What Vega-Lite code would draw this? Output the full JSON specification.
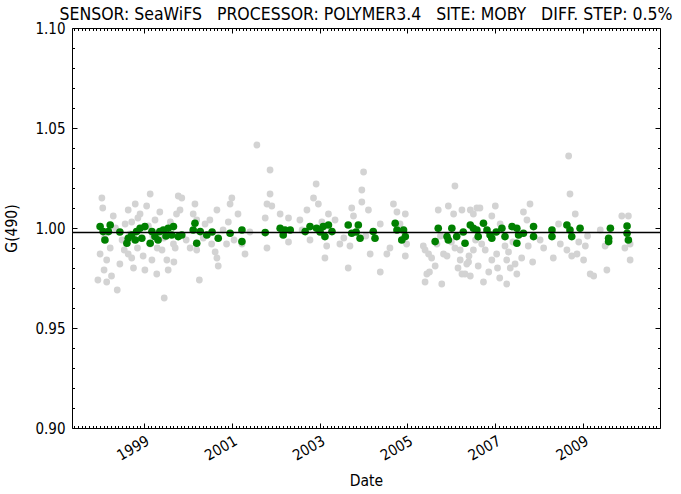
{
  "$schema": "https://vega.github.io/schema/vega-lite/v6.json",
  "width": 588,
  "height": 400,
  "autosize": {"type": "none"},
  "padding": {"left": 72, "top": 28, "right": 21, "bottom": 66},
  "background": "white",
  "config": {
    "view": {"stroke": "black", "strokeWidth": 1},
    "font": "DejaVu Sans Condensed, DejaVu Sans",
    "axis": {
      "domain": false,
      "grid": false,
      "tickColor": "black",
      "tickWidth": 1,
      "labelFont": "DejaVu Sans Condensed, DejaVu Sans",
      "labelFontSize": 15,
      "labelColor": "black",
      "titleFont": "DejaVu Sans Condensed, DejaVu Sans",
      "titleFontSize": 15.5,
      "titleFontWeight": "normal",
      "titleColor": "black",
      "labelOverlap": false,
      "labelBound": false,
      "labelFlush": false
    }
  },
  "title": {
    "text": "SENSOR: SeaWiFS\u00a0\u00a0\u00a0PROCESSOR: POLYMER3.4\u00a0\u00a0\u00a0SITE: MOBY\u00a0\u00a0\u00a0DIFF. STEP: 0.5%",
    "font": "DejaVu Sans Condensed, DejaVu Sans",
    "fontSize": 17.5,
    "fontWeight": "normal",
    "color": "black",
    "anchor": "middle",
    "offset": -2
  },
  "datasets": {
    "other": [
      {"t": 1998.04, "g": 1.015}, {"t": 1998.06, "g": 1.010}, {"t": 1998.23, "g": 0.990}, {"t": 1998.15, "g": 0.984},
      {"t": 1998.26, "g": 0.976}, {"t": 1998.15, "g": 0.973}, {"t": 1998.39, "g": 0.969}, {"t": 1998.64, "g": 1.009},
      {"t": 1998.72, "g": 1.003}, {"t": 1998.91, "g": 1.007}, {"t": 1999.06, "g": 1.011}, {"t": 1998.64, "g": 0.987},
      {"t": 1998.72, "g": 0.985}, {"t": 1998.76, "g": 0.980}, {"t": 1999.14, "g": 0.992}, {"t": 1999.18, "g": 0.984},
      {"t": 1999.29, "g": 0.977}, {"t": 1999.36, "g": 1.008}, {"t": 1999.46, "g": 0.965}, {"t": 1999.52, "g": 0.984},
      {"t": 1999.55, "g": 0.979}, {"t": 1999.78, "g": 1.016}, {"t": 1999.86, "g": 1.015}, {"t": 1999.74, "g": 1.007},
      {"t": 1999.82, "g": 1.009}, {"t": 1999.67, "g": 0.992}, {"t": 1999.71, "g": 0.990}, {"t": 2000.16, "g": 1.012},
      {"t": 2000.12, "g": 1.007}, {"t": 2000.20, "g": 1.004}, {"t": 2000.26, "g": 0.974}, {"t": 2000.20, "g": 0.989},
      {"t": 2000.50, "g": 1.004}, {"t": 2000.66, "g": 1.009}, {"t": 2000.54, "g": 0.992}, {"t": 2000.62, "g": 0.988},
      {"t": 2000.66, "g": 0.985}, {"t": 2000.69, "g": 0.981}, {"t": 2001.00, "g": 1.015}, {"t": 2000.96, "g": 1.012},
      {"t": 2000.92, "g": 1.003}, {"t": 2000.88, "g": 0.992}, {"t": 2001.23, "g": 0.992}, {"t": 2001.30, "g": 0.987},
      {"t": 2001.87, "g": 1.029}, {"t": 2001.87, "g": 1.017}, {"t": 2001.80, "g": 1.012}, {"t": 2001.91, "g": 1.011},
      {"t": 2001.76, "g": 1.005}, {"t": 2001.80, "g": 0.990}, {"t": 2002.10, "g": 1.007}, {"t": 2002.29, "g": 1.005},
      {"t": 2002.29, "g": 0.993}, {"t": 2001.57, "g": 1.0415}, {"t": 1997.95, "g": 0.974},
      {"t": 2004.00, "g": 1.028}, {"t": 2002.92, "g": 1.022}, {"t": 2003.96, "g": 1.019}, {"t": 2006.08, "g": 1.021},
      {"t": 2002.86, "g": 1.015}, {"t": 2002.97, "g": 1.012}, {"t": 2002.71, "g": 1.009}, {"t": 2003.20, "g": 1.007},
      {"t": 2003.73, "g": 1.010}, {"t": 2003.96, "g": 1.013}, {"t": 2004.11, "g": 1.009}, {"t": 2003.77, "g": 1.006},
      {"t": 2004.68, "g": 1.012}, {"t": 2004.76, "g": 1.008}, {"t": 2004.95, "g": 1.007}, {"t": 2003.16, "g": 0.991},
      {"t": 2003.12, "g": 0.985}, {"t": 2003.65, "g": 0.980}, {"t": 2003.69, "g": 0.991}, {"t": 2004.15, "g": 0.987},
      {"t": 2004.38, "g": 0.978}, {"t": 2004.53, "g": 0.987}, {"t": 2004.60, "g": 0.990}, {"t": 2004.95, "g": 0.986},
      {"t": 2004.98, "g": 0.992}, {"t": 2005.70, "g": 1.009}, {"t": 2005.93, "g": 1.011}, {"t": 2006.05, "g": 1.007},
      {"t": 2006.24, "g": 1.009}, {"t": 2006.43, "g": 1.009}, {"t": 2006.58, "g": 1.010}, {"t": 2005.40, "g": 0.989},
      {"t": 2005.48, "g": 0.987}, {"t": 2005.44, "g": 0.977}, {"t": 2005.67, "g": 0.992}, {"t": 2005.82, "g": 0.987},
      {"t": 2005.90, "g": 0.986}, {"t": 2006.20, "g": 0.989}, {"t": 2006.31, "g": 0.977}, {"t": 2006.39, "g": 0.983},
      {"t": 2006.50, "g": 0.989}, {"t": 2006.61, "g": 0.981}, {"t": 2008.67, "g": 1.036}, {"t": 2008.70, "g": 1.017},
      {"t": 2008.82, "g": 1.007}, {"t": 2006.50, "g": 1.007}, {"t": 2006.65, "g": 1.010}, {"t": 2007.00, "g": 1.011},
      {"t": 2006.92, "g": 1.006}, {"t": 2007.79, "g": 1.012}, {"t": 2007.64, "g": 1.008}, {"t": 2007.72, "g": 1.004},
      {"t": 2008.44, "g": 1.002}, {"t": 2009.88, "g": 1.006}, {"t": 2010.03, "g": 1.006}, {"t": 2005.36, "g": 0.991},
      {"t": 2005.50, "g": 0.978}, {"t": 2005.40, "g": 0.973}, {"t": 2005.78, "g": 0.972}, {"t": 2005.63, "g": 0.981},
      {"t": 2006.08, "g": 0.990}, {"t": 2006.20, "g": 0.984}, {"t": 2006.35, "g": 0.982}, {"t": 2006.24, "g": 0.977},
      {"t": 2006.43, "g": 0.976}, {"t": 2006.69, "g": 0.992}, {"t": 2006.77, "g": 0.989}, {"t": 2006.92, "g": 0.984},
      {"t": 2006.73, "g": 0.973}, {"t": 2007.03, "g": 0.987}, {"t": 2007.22, "g": 0.991}, {"t": 2007.26, "g": 0.984},
      {"t": 2007.34, "g": 0.980}, {"t": 2007.26, "g": 0.972}, {"t": 2007.45, "g": 0.982}, {"t": 2007.49, "g": 0.977},
      {"t": 2007.75, "g": 0.991}, {"t": 2008.32, "g": 0.985}, {"t": 2008.63, "g": 0.989}, {"t": 2008.74, "g": 0.986},
      {"t": 2008.86, "g": 0.987}, {"t": 2009.05, "g": 0.991}, {"t": 2009.01, "g": 0.984}, {"t": 2009.16, "g": 0.977},
      {"t": 2009.24, "g": 0.976}, {"t": 2009.54, "g": 0.979}, {"t": 2009.50, "g": 0.991}, {"t": 2010.07, "g": 0.984},
      {"t": 1998.80, "g": 1.012}, {"t": 1998.86, "g": 1.005}, {"t": 1999.14, "g": 1.017}, {"t": 1999.25, "g": 1.004},
      {"t": 1998.57, "g": 1.002}, {"t": 1998.45, "g": 0.982}, {"t": 1999.02, "g": 0.979}, {"t": 1999.41, "g": 0.989},
      {"t": 1998.00, "g": 0.987}, {"t": 1998.09, "g": 0.979}, {"t": 1999.96, "g": 0.994}, {"t": 2000.39, "g": 1.002},
      {"t": 2001.14, "g": 1.007}, {"t": 2002.55, "g": 1.004}, {"t": 2003.35, "g": 1.004}, {"t": 2003.46, "g": 0.992},
      {"t": 2002.78, "g": 0.994}, {"t": 2004.38, "g": 1.002}, {"t": 2004.83, "g": 1.002}, {"t": 2007.11, "g": 1.002},
      {"t": 2008.02, "g": 0.994}, {"t": 2009.39, "g": 0.999}, {"t": 2010.07, "g": 0.992}, {"t": 2001.41, "g": 0.998},
      {"t": 2008.48, "g": 0.992},
      {"t": 1998.35, "g": 1.000}, {"t": 1998.50, "g": 0.994}, {"t": 1998.55, "g": 0.989}, {"t": 1998.68, "g": 0.997},
      {"t": 1998.85, "g": 0.990}, {"t": 1998.98, "g": 0.986}, {"t": 1999.10, "g": 1.001}, {"t": 1999.20, "g": 0.996},
      {"t": 1999.30, "g": 0.990}, {"t": 1999.45, "g": 0.995}, {"t": 1999.60, "g": 1.003}, {"t": 1999.68, "g": 0.983},
      {"t": 1998.30, "g": 1.006}, {"t": 1998.10, "g": 0.995}, {"t": 2000.05, "g": 0.990}, {"t": 2000.35, "g": 0.995},
      {"t": 2000.80, "g": 0.999}, {"t": 2001.05, "g": 0.994}, {"t": 2002.60, "g": 0.999}, {"t": 2003.05, "g": 1.003},
      {"t": 2003.55, "g": 0.995}, {"t": 2004.05, "g": 0.996}, {"t": 2005.55, "g": 0.985}, {"t": 2005.75, "g": 0.996},
      {"t": 2006.00, "g": 0.993}, {"t": 2006.15, "g": 0.980}, {"t": 2006.40, "g": 0.986}, {"t": 2006.55, "g": 0.994},
      {"t": 2006.85, "g": 0.978}, {"t": 2007.05, "g": 0.980}, {"t": 2007.10, "g": 0.975}, {"t": 2007.30, "g": 0.988},
      {"t": 2007.40, "g": 0.993}, {"t": 2007.60, "g": 0.985}, {"t": 2007.85, "g": 0.983}, {"t": 2008.10, "g": 0.990},
      {"t": 2008.90, "g": 0.993}, {"t": 2009.10, "g": 0.996}, {"t": 2009.95, "g": 0.990}
    ],
    "selected": [
      {"t": 1998.00, "g": 1.0007}, {"t": 1998.07, "g": 0.9982}, {"t": 1998.11, "g": 0.9940}, {"t": 1998.23, "g": 1.0015},
      {"t": 1998.19, "g": 0.9982}, {"t": 1998.64, "g": 0.9949}, {"t": 1998.61, "g": 0.9924}, {"t": 1998.72, "g": 0.9965},
      {"t": 1998.83, "g": 0.9982}, {"t": 1998.91, "g": 0.9999}, {"t": 1999.02, "g": 1.0007}, {"t": 1998.95, "g": 0.9949},
      {"t": 1999.14, "g": 0.9924}, {"t": 1999.18, "g": 0.9982}, {"t": 1999.25, "g": 0.9957}, {"t": 1999.36, "g": 0.9982},
      {"t": 1999.44, "g": 0.9990}, {"t": 1999.55, "g": 0.9999}, {"t": 1999.67, "g": 1.0007}, {"t": 1999.63, "g": 0.9965},
      {"t": 1999.78, "g": 0.9957}, {"t": 1999.86, "g": 0.9965}, {"t": 2000.16, "g": 1.0024}, {"t": 2000.12, "g": 0.9990},
      {"t": 2000.20, "g": 0.9924}, {"t": 2000.28, "g": 0.9982}, {"t": 2000.43, "g": 0.9965}, {"t": 2000.69, "g": 0.9949},
      {"t": 2000.96, "g": 0.9974}, {"t": 2001.23, "g": 0.9990}, {"t": 2001.23, "g": 0.9932}, {"t": 2001.76, "g": 0.9977},
      {"t": 2002.10, "g": 0.9999}, {"t": 2002.21, "g": 0.9990}, {"t": 2002.33, "g": 0.9990}, {"t": 2002.17, "g": 0.9965},
      {"t": 2002.67, "g": 0.9982}, {"t": 2002.78, "g": 1.0007}, {"t": 2002.93, "g": 0.9999}, {"t": 2003.08, "g": 1.0007},
      {"t": 2003.20, "g": 1.0015}, {"t": 2003.12, "g": 0.9957}, {"t": 2003.28, "g": 0.9982}, {"t": 2003.65, "g": 1.0015},
      {"t": 2003.73, "g": 0.9974}, {"t": 2003.88, "g": 1.0015}, {"t": 2003.92, "g": 0.9949}, {"t": 2004.22, "g": 0.9982},
      {"t": 2004.26, "g": 0.9949}, {"t": 2004.72, "g": 1.0024}, {"t": 2004.76, "g": 0.9990}, {"t": 2004.91, "g": 0.9990},
      {"t": 2004.87, "g": 0.9940}, {"t": 2004.95, "g": 0.9957}, {"t": 2005.63, "g": 0.9932}, {"t": 2005.70, "g": 0.9999},
      {"t": 2005.90, "g": 0.9957}, {"t": 2005.93, "g": 0.9940}, {"t": 2006.01, "g": 0.9999}, {"t": 2006.12, "g": 0.9957},
      {"t": 2006.31, "g": 0.9924}, {"t": 2006.43, "g": 1.0015}, {"t": 2006.50, "g": 0.9999}, {"t": 2006.58, "g": 0.9990},
      {"t": 2006.61, "g": 0.9957}, {"t": 2006.73, "g": 1.0024}, {"t": 2006.81, "g": 0.9990}, {"t": 2006.88, "g": 0.9965},
      {"t": 2006.92, "g": 0.9949}, {"t": 2007.15, "g": 0.9999}, {"t": 2007.22, "g": 0.9957}, {"t": 2007.38, "g": 1.0007},
      {"t": 2007.49, "g": 0.9999}, {"t": 2007.53, "g": 0.9965}, {"t": 2007.49, "g": 0.9924}, {"t": 2007.64, "g": 0.9974},
      {"t": 2007.87, "g": 1.0007}, {"t": 2007.87, "g": 0.9957}, {"t": 2008.29, "g": 0.9990}, {"t": 2008.29, "g": 0.9957},
      {"t": 2008.63, "g": 1.0015}, {"t": 2008.70, "g": 0.9990}, {"t": 2008.74, "g": 0.9957}, {"t": 2008.93, "g": 0.9999},
      {"t": 2009.62, "g": 0.9999}, {"t": 2009.58, "g": 0.9949}, {"t": 2009.58, "g": 0.9932}, {"t": 2010.00, "g": 1.0010},
      {"t": 2010.00, "g": 0.9974}, {"t": 2010.03, "g": 0.9940},
      {"t": 1998.45, "g": 0.9980}, {"t": 1998.80, "g": 0.9940}, {"t": 1999.32, "g": 0.9940}, {"t": 1999.50, "g": 0.9960},
      {"t": 2000.55, "g": 0.9980}, {"t": 2003.01, "g": 0.9980}, {"t": 2003.83, "g": 0.9980}, {"t": 2006.27, "g": 0.9980},
      {"t": 2007.02, "g": 0.9980}
    ],
    "reference": [{"g": 0.9977}]
  },
  "layer": [
    {
      "data": {"name": "other"},
      "mark": {"type": "circle", "color": "#d3d3d3", "opacity": 1, "size": 46},
      "encoding": {
        "x": {
          "field": "t",
          "type": "quantitative",
          "scale": {"domain": [1997.36, 2010.75], "nice": false, "zero": false},
          "axis": {
            "orient": "bottom",
            "title": "Date",
            "titlePadding": 10,
            "values": [1997.4167, 1997.5, 1997.5833, 1997.6667, 1997.75, 1997.8333, 1997.9167,
              1998, 1998.0833, 1998.1667, 1998.25, 1998.3333, 1998.4167, 1998.5, 1998.5833, 1998.6667, 1998.75, 1998.8333, 1998.9167,
              1999, 1999.0833, 1999.1667, 1999.25, 1999.3333, 1999.4167, 1999.5, 1999.5833, 1999.6667, 1999.75, 1999.8333, 1999.9167,
              2000, 2000.0833, 2000.1667, 2000.25, 2000.3333, 2000.4167, 2000.5, 2000.5833, 2000.6667, 2000.75, 2000.8333, 2000.9167,
              2001, 2001.0833, 2001.1667, 2001.25, 2001.3333, 2001.4167, 2001.5, 2001.5833, 2001.6667, 2001.75, 2001.8333, 2001.9167,
              2002, 2002.0833, 2002.1667, 2002.25, 2002.3333, 2002.4167, 2002.5, 2002.5833, 2002.6667, 2002.75, 2002.8333, 2002.9167,
              2003, 2003.0833, 2003.1667, 2003.25, 2003.3333, 2003.4167, 2003.5, 2003.5833, 2003.6667, 2003.75, 2003.8333, 2003.9167,
              2004, 2004.0833, 2004.1667, 2004.25, 2004.3333, 2004.4167, 2004.5, 2004.5833, 2004.6667, 2004.75, 2004.8333, 2004.9167,
              2005, 2005.0833, 2005.1667, 2005.25, 2005.3333, 2005.4167, 2005.5, 2005.5833, 2005.6667, 2005.75, 2005.8333, 2005.9167,
              2006, 2006.0833, 2006.1667, 2006.25, 2006.3333, 2006.4167, 2006.5, 2006.5833, 2006.6667, 2006.75, 2006.8333, 2006.9167,
              2007, 2007.0833, 2007.1667, 2007.25, 2007.3333, 2007.4167, 2007.5, 2007.5833, 2007.6667, 2007.75, 2007.8333, 2007.9167,
              2008, 2008.0833, 2008.1667, 2008.25, 2008.3333, 2008.4167, 2008.5, 2008.5833, 2008.6667, 2008.75, 2008.8333, 2008.9167,
              2009, 2009.0833, 2009.1667, 2009.25, 2009.3333, 2009.4167, 2009.5, 2009.5833, 2009.6667, 2009.75, 2009.8333, 2009.9167,
              2010, 2010.0833, 2010.1667, 2010.25, 2010.3333, 2010.4167, 2010.5, 2010.5833, 2010.6667],
            "labelExpr": "datum.value % 2 == 1 ? format(datum.value, 'd') : ''",
            "labelAngle": -30,
            "labelAlign": "right",
            "labelBaseline": "top",
            "labelPadding": 10,
            "tickSize": {"condition": {"test": "datum.value % 2 == 1", "value": -5}, "value": -2.5}
          }
        },
        "y": {
          "field": "g",
          "type": "quantitative",
          "scale": {"domain": [0.9, 1.1], "nice": false, "zero": false},
          "axis": {
            "orient": "left",
            "title": "G(490)",
            "titlePadding": 15,
            "values": [0.9, 0.91, 0.92, 0.93, 0.94, 0.95, 0.96, 0.97, 0.98, 0.99, 1.0, 1.01, 1.02, 1.03, 1.04, 1.05, 1.06, 1.07, 1.08, 1.09, 1.1],
            "labelExpr": "abs(datum.value * 20 - round(datum.value * 20)) < 0.0001 ? format(datum.value, '.2f') : ''",
            "labelPadding": 12,
            "tickSize": {"condition": {"test": "abs(datum.value * 20 - round(datum.value * 20)) < 0.0001", "value": -5}, "value": -2.5}
          }
        }
      }
    },
    {
      "data": {"name": "selected"},
      "mark": {"type": "circle", "color": "#008000", "opacity": 1, "size": 58},
      "encoding": {
        "x": {
          "field": "t",
          "type": "quantitative",
          "scale": {"domain": [1997.36, 2010.75], "nice": false, "zero": false},
          "axis": {
            "orient": "top",
            "title": null,
            "labels": false,
            "values": [1997.4167, 1997.5, 1997.5833, 1997.6667, 1997.75, 1997.8333, 1997.9167,
              1998, 1998.0833, 1998.1667, 1998.25, 1998.3333, 1998.4167, 1998.5, 1998.5833, 1998.6667, 1998.75, 1998.8333, 1998.9167,
              1999, 1999.0833, 1999.1667, 1999.25, 1999.3333, 1999.4167, 1999.5, 1999.5833, 1999.6667, 1999.75, 1999.8333, 1999.9167,
              2000, 2000.0833, 2000.1667, 2000.25, 2000.3333, 2000.4167, 2000.5, 2000.5833, 2000.6667, 2000.75, 2000.8333, 2000.9167,
              2001, 2001.0833, 2001.1667, 2001.25, 2001.3333, 2001.4167, 2001.5, 2001.5833, 2001.6667, 2001.75, 2001.8333, 2001.9167,
              2002, 2002.0833, 2002.1667, 2002.25, 2002.3333, 2002.4167, 2002.5, 2002.5833, 2002.6667, 2002.75, 2002.8333, 2002.9167,
              2003, 2003.0833, 2003.1667, 2003.25, 2003.3333, 2003.4167, 2003.5, 2003.5833, 2003.6667, 2003.75, 2003.8333, 2003.9167,
              2004, 2004.0833, 2004.1667, 2004.25, 2004.3333, 2004.4167, 2004.5, 2004.5833, 2004.6667, 2004.75, 2004.8333, 2004.9167,
              2005, 2005.0833, 2005.1667, 2005.25, 2005.3333, 2005.4167, 2005.5, 2005.5833, 2005.6667, 2005.75, 2005.8333, 2005.9167,
              2006, 2006.0833, 2006.1667, 2006.25, 2006.3333, 2006.4167, 2006.5, 2006.5833, 2006.6667, 2006.75, 2006.8333, 2006.9167,
              2007, 2007.0833, 2007.1667, 2007.25, 2007.3333, 2007.4167, 2007.5, 2007.5833, 2007.6667, 2007.75, 2007.8333, 2007.9167,
              2008, 2008.0833, 2008.1667, 2008.25, 2008.3333, 2008.4167, 2008.5, 2008.5833, 2008.6667, 2008.75, 2008.8333, 2008.9167,
              2009, 2009.0833, 2009.1667, 2009.25, 2009.3333, 2009.4167, 2009.5, 2009.5833, 2009.6667, 2009.75, 2009.8333, 2009.9167,
              2010, 2010.0833, 2010.1667, 2010.25, 2010.3333, 2010.4167, 2010.5, 2010.5833, 2010.6667],
            "tickSize": {"condition": {"test": "datum.value % 2 == 1", "value": -5}, "value": -2.5}
          }
        },
        "y": {
          "field": "g",
          "type": "quantitative",
          "scale": {"domain": [0.9, 1.1], "nice": false, "zero": false},
          "axis": {
            "orient": "right",
            "title": null,
            "labels": false,
            "values": [0.9, 0.91, 0.92, 0.93, 0.94, 0.95, 0.96, 0.97, 0.98, 0.99, 1.0, 1.01, 1.02, 1.03, 1.04, 1.05, 1.06, 1.07, 1.08, 1.09, 1.1],
            "tickSize": {"condition": {"test": "abs(datum.value * 20 - round(datum.value * 20)) < 0.0001", "value": -5}, "value": -2.5}
          }
        }
      }
    },
    {
      "data": {"name": "reference"},
      "mark": {"type": "rule", "color": "black", "strokeWidth": 1.5},
      "encoding": {
        "y": {"field": "g", "type": "quantitative", "axis": null}
      }
    }
  ],
  "resolve": {"axis": {"x": "independent", "y": "independent"}}
}
